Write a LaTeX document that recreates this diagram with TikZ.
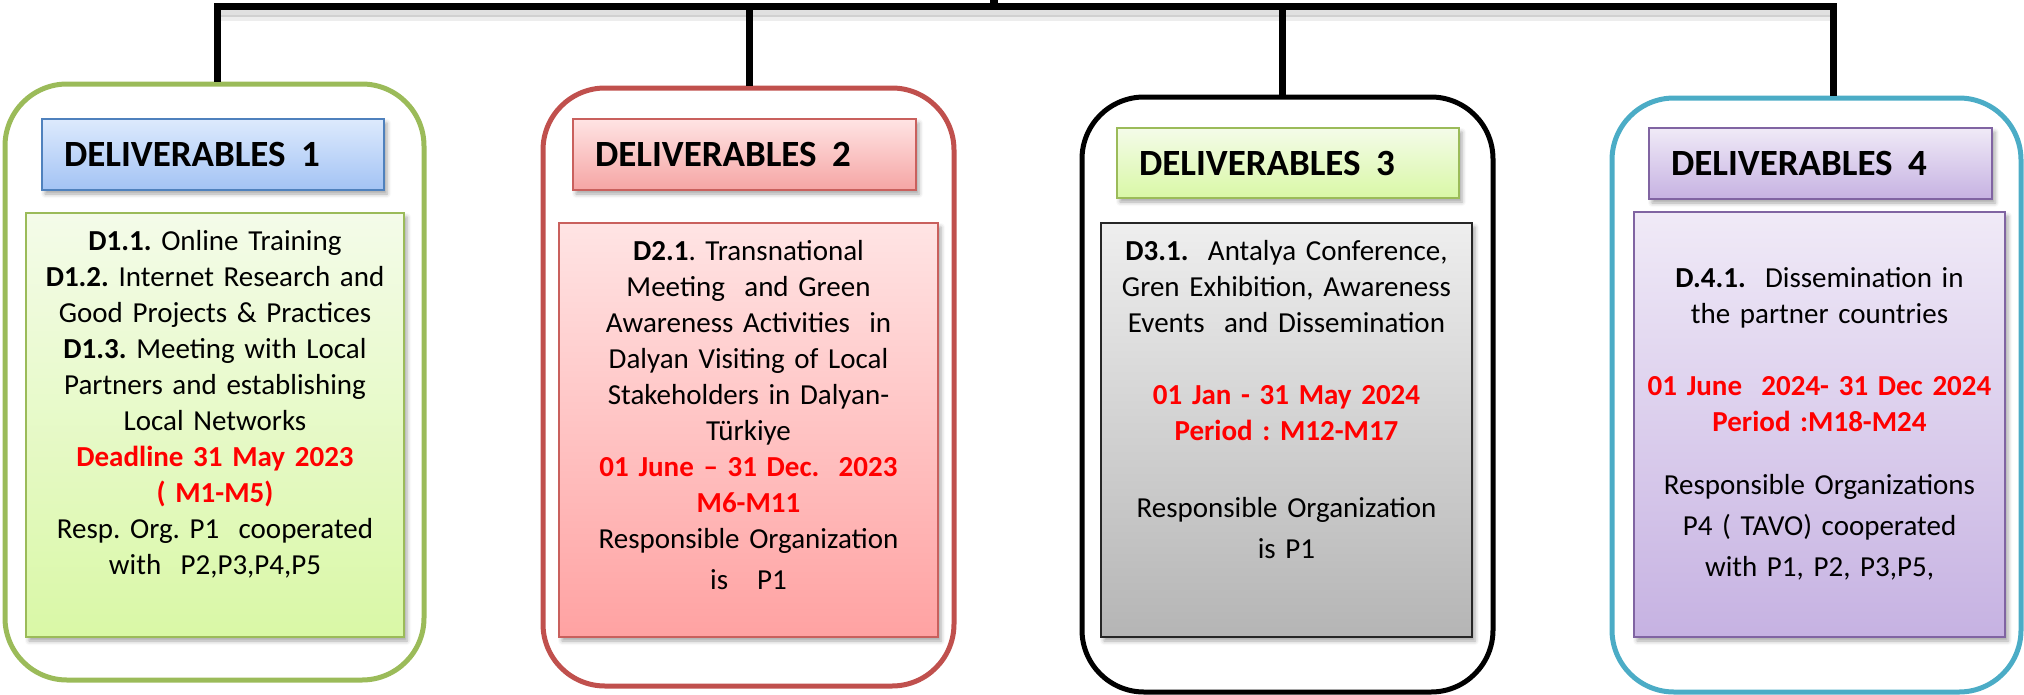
\documentclass[tikz,border=0pt]{standalone}
\usepackage{fontspec}
\setmainfont{Carlito}
\usetikzlibrary{shadows.blur}
\frenchspacing
\definecolor{ogreen}{HTML}{9BBB59}
\definecolor{ored}{HTML}{C0504D}
\definecolor{oblue}{HTML}{4BACC6}
\definecolor{hblueB}{HTML}{4F81BD}
\definecolor{hblueT}{HTML}{DDEAFD}
\definecolor{hblueD}{HTML}{A3C3F4}
\definecolor{grT}{HTML}{F4FBE9}
\definecolor{grD}{HTML}{D9F8A6}
\definecolor{pkB}{HTML}{C9605D}
\definecolor{pkT}{HTML}{FFE4E4}
\definecolor{pkD}{HTML}{FFA2A2}
\definecolor{pkHD}{HTML}{F5A5A4}
\definecolor{gyT}{HTML}{EEEEEE}
\definecolor{gyD}{HTML}{B5B5B5}
\definecolor{puB}{HTML}{8064A2}
\definecolor{puT}{HTML}{F0EAF7}
\definecolor{puD}{HTML}{C6B2E2}
\definecolor{dred}{HTML}{FF0000}
\newcommand\dl[1]{\textcolor{dred}{\bfseries #1}}
\newcommand\hgap{\kern0.42em}
\begin{document}
\begin{tikzpicture}[x=1pt,y=-1pt,
  outer/.style={draw, line width=5pt, rounded corners=62pt, inner sep=0pt},
  shad/.style={blur shadow={shadow xshift=3pt,shadow yshift=-4pt,shadow blur radius=4pt,shadow opacity=35}},
  hdr/.style={draw, line width=2pt, shad, inner xsep=22pt, inner ysep=0pt, align=left,
    minimum height=71pt, font=\fontsize{37}{44}\selectfont\bfseries},
  bodybox/.style={draw, line width=2pt, shad, inner sep=0pt},
  btext/.style={anchor=north, inner sep=0pt, align=center, font=\fontsize{29}{36}\selectfont},
  conn/.style={line width=7pt, black, line join=miter}
]
\useasboundingbox (0,0) rectangle (2024,694);

% outer rounded boxes
\node[outer, draw=ogreen, minimum width=419pt, minimum height=596pt] (o1) at (214.5,382) {};
\node[outer, draw=ored,   minimum width=411pt, minimum height=598pt] (o2) at (748.5,387) {};
\node[outer, draw=black,  minimum width=411pt, minimum height=595pt] (o3) at (1287.5,394.5) {};
\node[outer, draw=oblue,  minimum width=409pt, minimum height=594pt] (o4) at (1816.5,395) {};

% connectors
\coordinate (bL) at (217,6);
\coordinate (bR) at (1833,6);
\coordinate (b2) at (749,6);
\coordinate (b3) at (1282,6);
\coordinate (up) at (994,0);
\draw[line width=8pt, black, opacity=0.12] ([yshift=-7pt]bL) -- ([yshift=-7pt]bR);
\draw[line width=6pt, black, opacity=0.07] ([yshift=-12pt]bL) -- ([yshift=-12pt]bR);
\draw[conn] (bL |- o1.north) -- (bL) -- (bR) -- (bR |- o4.north);
\draw[conn] (b2) -- (b2 |- o2.north);
\draw[conn] (b3) -- (b3 |- o3.north);
\draw[line width=8pt] (up) -- (up |- bL);

% headers
\node[hdr, draw=hblueB, top color=hblueT, bottom color=hblueD, text width=298pt] (h1) at (213,154.5) {DELIVERABLES\hgap 1};
\node[hdr, draw=pkB, top color=pkT, bottom color=pkHD, text width=299pt] (h2) at (744.5,154.5) {DELIVERABLES\hgap 2};
\node[hdr, draw=ogreen, top color=grT, bottom color=grD, text width=298pt, minimum height=70pt] (h3) at (1288,163) {DELIVERABLES\hgap 3};
\node[hdr, draw=puB, top color=puT, bottom color=puD, text width=299pt] (h4) at (1820.5,163.5) {DELIVERABLES\hgap 4};

% bodies
\node[bodybox, draw=ogreen, top color=grT, bottom color=grD, minimum width=378pt, minimum height=424pt] (b1box) at (215,425) {};
\node[bodybox, draw=pkB, top color=pkT, bottom color=pkD, minimum width=379pt, minimum height=414pt] (b2box) at (748.5,430) {};
\node[bodybox, draw=black!85, top color=gyT, bottom color=gyD, minimum width=371pt, minimum height=414pt] (b3box) at (1286.5,430) {};
\node[bodybox, draw=puB, top color=puT, bottom color=puD, minimum width=371pt, minimum height=425pt] (b4box) at (1819.5,424.5) {};

% body texts
\node[btext, text width=370pt] (t1) at ([yshift=-13pt]b1box.north) {\strut\textbf{D1.1.} Online Training\\
\textbf{D1.2.} Internet Research and\\
Good Projects \& Practices\\
\textbf{D1.3.} Meeting with Local\\
Partners and establishing\\
Local Networks\\
\dl{Deadline 31 May 2023}\\
\dl{( M1-M5)}\\
Resp. Org. P1\ \ cooperated\\
with\ \ P2,P3,P4,P5};

\node[btext, text width=370pt] (t2) at ([yshift=-13pt]b2box.north) {\strut\textbf{D2.1}. Transnational\\
Meeting\ \ and Green\\
Awareness Activities\ \ in\\
Dalyan Visiting of Local\\
Stakeholders in Dalyan-\\
Türkiye\\
\dl{01 June – 31 Dec.\ \ 2023}\\
\dl{M6-M11}\\
Responsible Organization\\[5pt]
is\ \ \ P1};

\node[btext, text width=365pt] (t3) at ([yshift=-13pt]b3box.north) {\strut\textbf{D3.1.}\ \ Antalya Conference,\\
Gren Exhibition, Awareness\\
Events\ \ and Dissemination\\[36pt]
\dl{01 Jan - 31 May 2024}\\
\dl{Period : M12-M17}\\[41.5pt]
Responsible Organization\\[4.5pt]
is P1};

\node[btext, text width=365pt] (t4) at ([yshift=-51pt]b4box.north) {\strut\textbf{D.4.1.}\ \ Dissemination in\\
the partner countries\\[36pt]
\dl{01 June\ \ 2024- 31 Dec 2024}\\
\dl{Period :M18-M24}\\[27pt]
Responsible Organizations\\[5pt]
P4 ( TAVO) cooperated\\[5.5pt]
with P1, P2, P3,P5,};
\end{tikzpicture}
\end{document}
